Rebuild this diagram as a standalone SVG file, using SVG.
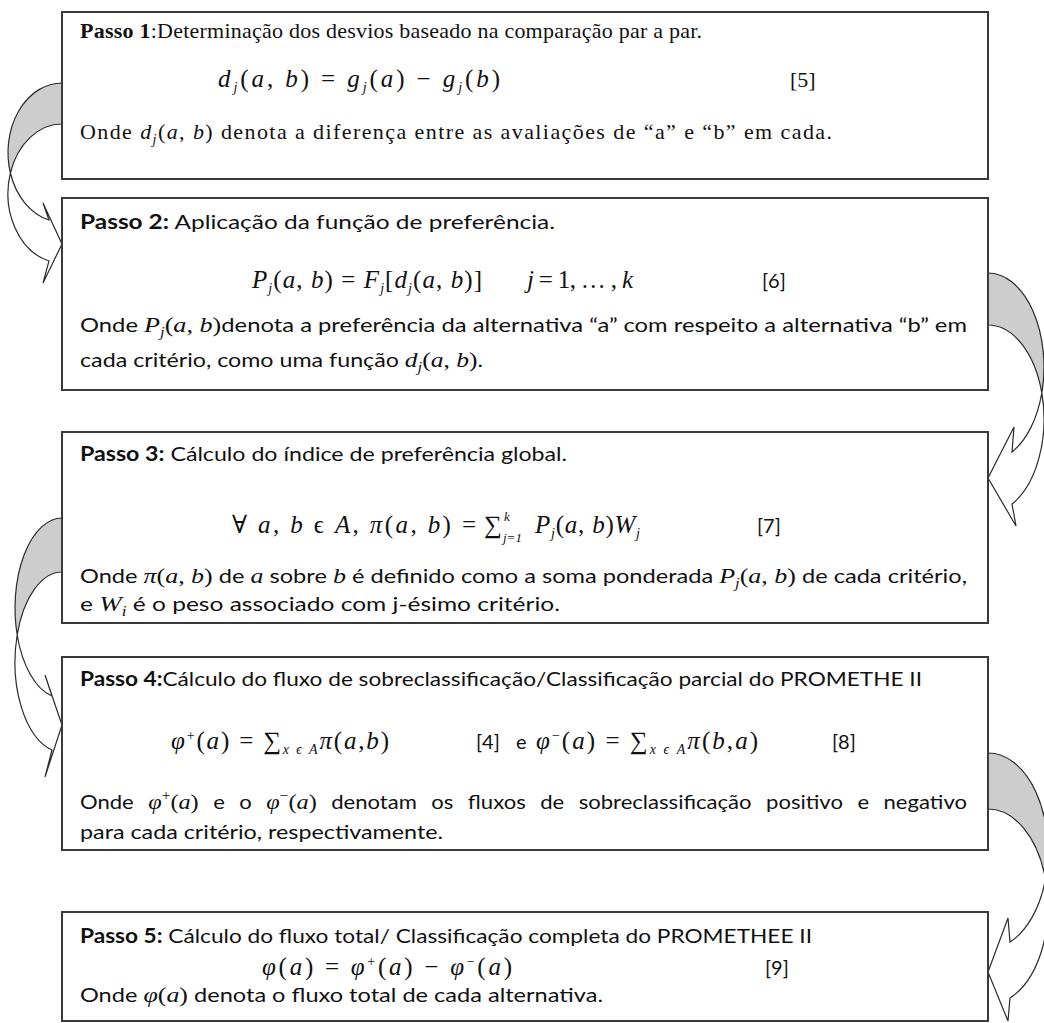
<svg xmlns="http://www.w3.org/2000/svg" width="1044" height="1023" viewBox="0 0 1044 1023">
<style>
.box{fill:#fff;stroke:#3a3a3a;stroke-width:2}
.back{fill:#cdcdcd;stroke:#2b2b2b;stroke-width:1.2;stroke-linejoin:round}
.front{fill:#fff;stroke:#2b2b2b;stroke-width:1.2;stroke-linejoin:miter}
text{fill:#111}
.t{font-family:Lato,"Open Sans","Liberation Sans",sans-serif;font-size:20px}
.s{font-family:"Liberation Serif","DejaVu Serif",serif;font-size:22px}
.m{font-family:"Liberation Serif","DejaVu Serif",serif;font-size:25px}
.mi{font-family:"Liberation Serif","DejaVu Serif",serif;font-style:italic;font-size:22px}
.mu{font-family:"Liberation Serif","DejaVu Serif",serif;font-style:normal;font-size:22px}
.i{font-style:italic}
.b{font-weight:bold}
.sb{font-family:"Liberation Serif","DejaVu Serif",serif;font-style:italic;font-size:14px;baseline-shift:-5px}
.sp{font-family:"Liberation Serif","DejaVu Serif",serif;font-size:14px;baseline-shift:9px}
.lim{font-family:"Liberation Serif","DejaVu Serif",serif;font-style:italic;font-size:13px}
</style>
<rect width="1044" height="1023" fill="#fff"/>

<g id="connectors">
  <path class="back" d="M62,83 A54,69.5 0 0 0 10.4,173 A54,69.5 0 0 1 62,124 Z"/>
  <path class="front" d="M10.4,173 A54,69.5 0 0 0 49,261 L43,283 L62,244 L43,203 L49,220 A54,69.5 0 0 1 10.4,173 Z"/>
  <path class="back" d="M988,273 A56,94 0 0 1 1041.8,393 A56,94 0 0 0 988,325 Z"/>
  <path class="front" d="M1041.8,393 A56,94 0 0 1 1012,504 L1016,526 L988,478 L1014,427 L1012,452 A56,94 0 0 0 1041.8,393 Z"/>
  <path class="back" d="M62,518 A47,90 0 0 0 17.2,635 A47,90 0 0 1 62,572 Z"/>
  <path class="front" d="M17.2,635 A47,90 0 0 0 52,750 L45,777 L62,725 L45,675 L52,696 A47,90 0 0 1 17.2,635 Z"/>
  <path class="back" d="M988,753 A60,98 0 0 1 1045.5,879 A60,98 0 0 0 988,809 Z"/>
  <path class="front" d="M1045.5,879 A60,98 0 0 1 1010,998 L1008,1021 L988,972 L1008,918 L1010,942 A60,98 0 0 0 1045.5,879 Z"/>
</g>

<g id="passo1">
  <rect class="box" x="62" y="12" width="926" height="167"/>
  <text class="s" x="80" y="38" textLength="622" lengthAdjust="spacing"><tspan class="b">Passo 1</tspan>:Determinação dos desvios baseado na comparação par a par.</text>
  <text class="m" x="218" y="87" textLength="282" lengthAdjust="spacing"><tspan class="i">d</tspan><tspan class="sb">j</tspan>(<tspan class="i">a</tspan>, <tspan class="i">b</tspan>) = <tspan class="i">g</tspan><tspan class="sb">j</tspan>(<tspan class="i">a</tspan>) −  <tspan class="i">g</tspan><tspan class="sb">j</tspan>(<tspan class="i">b</tspan>)</text>
  <text class="s" x="790" y="87" font-size="23">[5]</text>
  <text class="s" x="80" y="139" textLength="752" lengthAdjust="spacing">Onde <tspan class="mi">d</tspan><tspan class="sb">j</tspan><tspan class="mu">(</tspan><tspan class="mi">a</tspan><tspan class="mu">, </tspan><tspan class="mi">b</tspan><tspan class="mu">)</tspan> denota a diferença entre as avaliações de “a” e “b” em cada.</text>
</g>

<g id="passo2">
  <rect class="box" x="62" y="198" width="926" height="192"/>
  <text class="t" x="80" y="229" textLength="475" lengthAdjust="spacingAndGlyphs"><tspan class="b">Passo 2:</tspan> Aplicação da função de preferência.</text>
  <text class="m" x="252" y="288" textLength="230" lengthAdjust="spacing"><tspan class="i">P</tspan><tspan class="sb">j</tspan>(<tspan class="i">a</tspan>, <tspan class="i">b</tspan>) = <tspan class="i">F</tspan><tspan class="sb">j</tspan>[<tspan class="i">d</tspan><tspan class="sb">j</tspan>(<tspan class="i">a</tspan>, <tspan class="i">b</tspan>)]</text>
  <text class="m" x="527" y="288" textLength="106" lengthAdjust="spacing"><tspan class="i">j</tspan> = 1, … , <tspan class="i">k</tspan></text>
  <text class="t" x="762" y="288">[6]</text>
  <text class="t" x="80" y="332" textLength="887" lengthAdjust="spacingAndGlyphs">Onde <tspan class="mi">P</tspan><tspan class="sb">j</tspan><tspan class="mu">(</tspan><tspan class="mi">a</tspan><tspan class="mu">, </tspan><tspan class="mi">b</tspan><tspan class="mu">)</tspan>denota a preferência da alternativa “a” com respeito a alternativa “b” em</text>
  <text class="t" x="80" y="367" textLength="403" lengthAdjust="spacingAndGlyphs">cada critério, como uma função <tspan class="mi">d</tspan><tspan class="sb">j</tspan><tspan class="mu">(</tspan><tspan class="mi">a</tspan><tspan class="mu">, </tspan><tspan class="mi">b</tspan><tspan class="mu">)</tspan>.</text>
</g>

<g id="passo3">
  <rect class="box" x="62" y="432" width="926" height="191"/>
  <text class="t" x="80" y="461" textLength="487" lengthAdjust="spacingAndGlyphs"><tspan class="b">Passo 3:</tspan> Cálculo do índice de preferência global.</text>
  <text class="m" x="232" y="533" textLength="244" lengthAdjust="spacing">∀ <tspan class="i">a</tspan>, <tspan class="i">b</tspan> ϵ <tspan class="i">A</tspan>, <tspan class="i">π</tspan>(<tspan class="i">a</tspan>, <tspan class="i">b</tspan>) =</text>
  <text class="m" x="484" y="533">∑</text>
  <text class="lim" x="504" y="521">k</text>
  <text class="lim" x="503" y="542">j=1</text>
  <text class="m" x="535" y="533" textLength="105" lengthAdjust="spacing"><tspan class="i">P</tspan><tspan class="sb">j</tspan>(<tspan class="i">a</tspan>, <tspan class="i">b</tspan>)<tspan class="i">W</tspan><tspan class="sb">j</tspan></text>
  <text class="t" x="757" y="533">[7]</text>
  <text class="t" x="80" y="583" textLength="887" lengthAdjust="spacingAndGlyphs">Onde <tspan class="mi">π</tspan><tspan class="mu">(</tspan><tspan class="mi">a</tspan><tspan class="mu">, </tspan><tspan class="mi">b</tspan><tspan class="mu">)</tspan> de <tspan class="mi">a</tspan> sobre <tspan class="mi">b</tspan> é definido como a soma ponderada <tspan class="mi">P</tspan><tspan class="sb">j</tspan><tspan class="mu">(</tspan><tspan class="mi">a</tspan><tspan class="mu">, </tspan><tspan class="mi">b</tspan><tspan class="mu">)</tspan> de cada critério,</text>
  <text class="t" x="80" y="611" textLength="480" lengthAdjust="spacingAndGlyphs">e <tspan class="mi">W</tspan><tspan class="sb">i</tspan> é o peso associado com j-ésimo critério.</text>
</g>

<g id="passo4">
  <rect class="box" x="62" y="657" width="926" height="193"/>
  <text class="t" x="80" y="686" textLength="842" lengthAdjust="spacingAndGlyphs"><tspan class="b">Passo 4:</tspan>Cálculo do fluxo de sobreclassificação/Classificação parcial do PROMETHE II</text>
  <text class="m" x="171" y="749" textLength="218" lengthAdjust="spacing"><tspan class="i">φ</tspan><tspan class="sp">+</tspan>(<tspan class="i">a</tspan>) = ∑<tspan class="sb">x ϵ A</tspan><tspan class="i">π</tspan>(<tspan class="i">a</tspan>,<tspan class="i">b</tspan>)</text>
  <text class="t" x="476" y="749">[4]</text>
  <text class="t" x="516" y="749">e</text>
  <text class="m" x="536" y="749" textLength="222" lengthAdjust="spacing"><tspan class="i">φ</tspan><tspan class="sp">−</tspan>(<tspan class="i">a</tspan>) = ∑<tspan class="sb">x ϵ A</tspan><tspan class="i">π</tspan>(<tspan class="i">b</tspan>,<tspan class="i">a</tspan>)</text>
  <text class="t" x="832" y="749">[8]</text>
  <text class="t" x="80" y="809" textLength="887" lengthAdjust="spacingAndGlyphs" word-spacing="8">Onde <tspan class="mi">φ</tspan><tspan class="sp">+</tspan><tspan class="mu">(</tspan><tspan class="mi">a</tspan><tspan class="mu">)</tspan> e  o <tspan class="mi">φ</tspan><tspan class="sp">−</tspan><tspan class="mu">(</tspan><tspan class="mi">a</tspan><tspan class="mu">)</tspan> denotam os fluxos de sobreclassificação positivo e negativo</text>
  <text class="t" x="80" y="839" textLength="363" lengthAdjust="spacingAndGlyphs">para cada critério, respectivamente.</text>
</g>

<g id="passo5">
  <rect class="box" x="62" y="912" width="926" height="109"/>
  <text class="t" x="80" y="943" textLength="732" lengthAdjust="spacingAndGlyphs"><tspan class="b">Passo 5:</tspan> Cálculo do fluxo total/ Classificação completa do PROMETHEE II</text>
  <text class="m" x="262" y="975" textLength="250" lengthAdjust="spacing"><tspan class="i">φ</tspan>(<tspan class="i">a</tspan>) = <tspan class="i">φ</tspan><tspan class="sp">+</tspan>(<tspan class="i">a</tspan>) −  <tspan class="i">φ</tspan><tspan class="sp">−</tspan>(<tspan class="i">a</tspan>)</text>
  <text class="t" x="765" y="975">[9]</text>
  <text class="t" x="80" y="1002" textLength="523" lengthAdjust="spacingAndGlyphs">Onde <tspan class="mi">φ</tspan><tspan class="mu">(</tspan><tspan class="mi">a</tspan><tspan class="mu">)</tspan> denota o fluxo total de cada alternativa.</text>
</g>
</svg>
